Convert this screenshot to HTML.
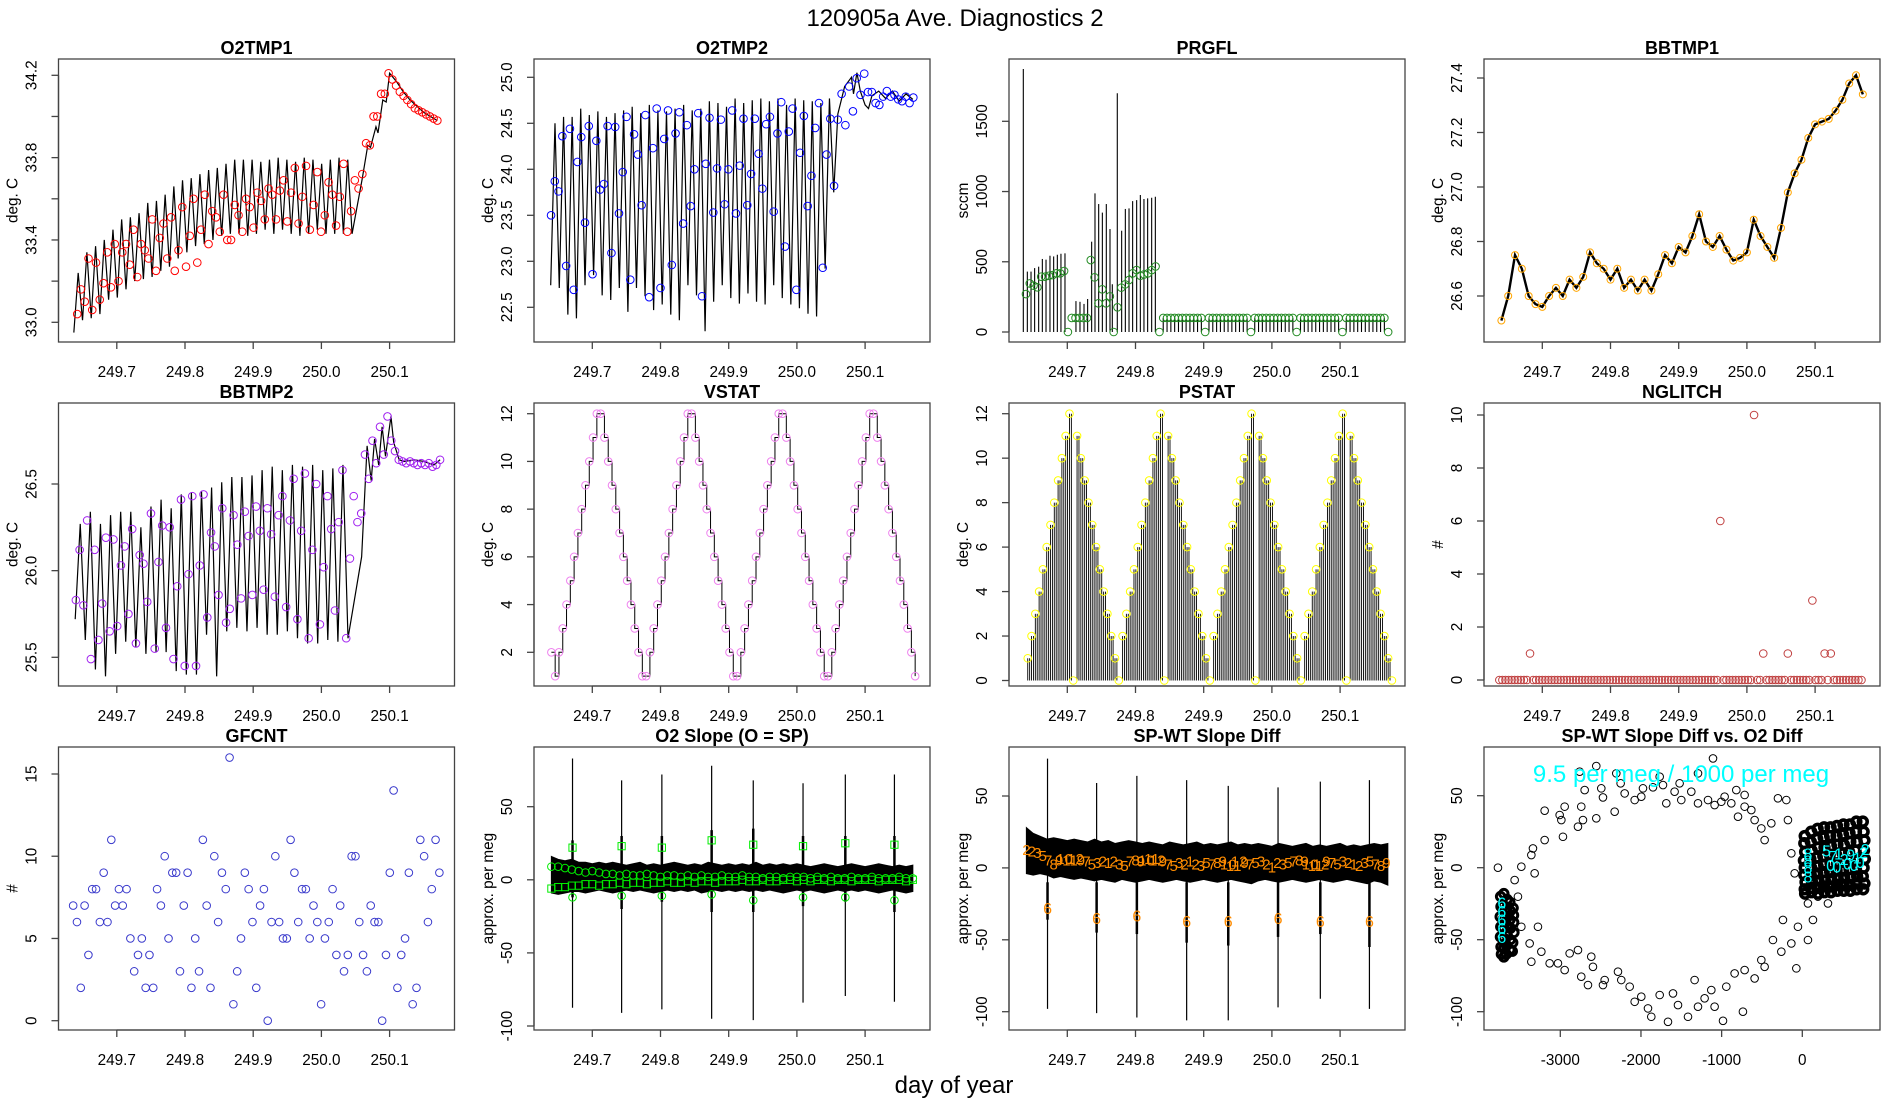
<!DOCTYPE html>
<html><head><meta charset="utf-8"><title>120905a Ave. Diagnostics 2</title>
<style>
html,body{margin:0;padding:0;background:#fff;}
svg{display:block;font-family:"Liberation Sans",Arial,sans-serif;}
</style></head>
<body>
<svg id="chart" width="1900" height="1100" viewBox="0 0 1900 1100" xmlns="http://www.w3.org/2000/svg">
<rect x="0" y="0" width="1900" height="1100" fill="#fff"/>
<text x="955" y="26" font-size="24" text-anchor="middle">120905a   Ave. Diagnostics 2</text>
<text x="954" y="1093" font-size="24" text-anchor="middle">day of year</text>
</svg>
<script>
// ---------------- DATA ----------------
// O2TMP1
const o2t1Peaks=[33.24,33.34,33.37,33.40,33.45,33.50,33.51,33.53,33.58,33.59,33.62,33.66,33.69,33.70,33.72,33.74,33.75,33.77,33.79,33.79,33.79,33.78,33.79,33.80,33.79,33.78,33.80,33.79,33.77,33.79,33.80,33.79];
const o2t1Troughs=[32.95,33.01,33.02,33.04,33.11,33.12,33.16,33.20,33.21,33.22,33.25,33.27,33.31,33.34,33.37,33.38,33.40,33.42,33.43,33.43,33.42,33.43,33.45,33.43,33.45,33.43,33.42,33.43,33.45,33.43,33.43,33.43];
const o2t1TailT=[250.045,250.06,250.068,250.072,250.08,250.083,250.09,250.095,250.10,250.11,250.12,250.13,250.14,250.15,250.16,250.17];
const o2t1TailV=[33.43,33.70,33.86,33.85,33.95,33.92,34.08,34.07,34.21,34.17,34.12,34.08,34.05,34.02,34.00,33.98];
const o2t1Marks=[33.04,33.16,33.10,33.31,33.06,33.29,33.11,33.19,33.34,33.17,33.38,33.20,33.34,33.38,33.28,33.45,33.22,33.38,33.35,33.31,33.50,33.25,33.41,33.48,33.31,33.51,33.25,33.35,33.56,33.27,33.42,33.60,33.29,33.45,33.62,33.38,33.54,33.51,33.44,33.62,33.40,33.40,33.57,33.52,33.44,33.60,33.56,33.46,33.63,33.59,33.50,33.65,33.62,33.50,33.64,33.69,33.49,33.63,33.75,33.48,33.61,33.76,33.45,33.57,33.73,33.44,33.52,33.68,33.62,33.47,33.61,33.77,33.44,33.54,33.69,33.65,33.72,33.87,33.86,34.00,34.00,34.11,34.11,34.21,34.18,34.15,34.12,34.10,34.08,34.06,34.04,34.03,34.02,34.01,34.00,33.99,33.98];
// O2TMP2
const o2t2Peaks=[24.50,24.57,24.57,24.66,24.59,24.63,24.57,24.61,24.64,24.68,24.61,24.70,24.64,24.63,24.66,24.70,24.64,24.66,24.74,24.72,24.68,24.77,24.72,24.75,24.77,24.74,24.77,24.70,24.77,24.75,24.74,24.72,24.77];
const o2t2Troughs=[22.74,22.71,22.42,22.38,22.74,22.85,22.63,22.58,22.71,22.45,22.71,22.62,22.47,22.53,22.42,22.36,22.74,22.63,22.24,22.56,22.74,22.60,22.54,22.65,22.56,22.53,22.74,22.60,22.53,22.49,22.43,22.40,22.92];
const o2t2TailT=[250.054,250.06,250.07,250.08,250.083,250.088,250.093,250.10,250.105,250.11,250.12,250.13,250.14,250.15,250.16,250.17];
const o2t2TailV=[23.75,24.60,24.90,25.00,24.82,25.05,24.85,24.70,24.66,24.80,24.85,24.77,24.85,24.74,24.82,24.76];
const o2t2Marks=[23.50,23.87,23.76,24.36,22.95,24.44,22.69,24.08,24.35,23.42,24.47,22.86,24.31,23.78,23.84,24.47,23.09,24.46,23.52,23.97,24.57,22.80,24.38,24.16,23.61,24.59,22.61,24.23,24.66,22.71,24.33,24.64,22.96,24.39,24.62,23.41,24.48,23.60,24.00,24.61,22.62,24.06,24.56,23.53,24.01,24.54,23.62,24.00,24.64,23.52,24.04,24.55,23.61,23.95,24.55,24.17,23.79,24.49,24.57,23.54,24.39,24.73,23.16,24.41,24.66,22.69,24.18,24.58,23.60,23.93,24.45,24.72,22.93,24.16,24.55,23.82,24.54,24.82,24.48,24.90,24.63,24.99,24.81,25.04,24.84,24.84,24.72,24.70,24.79,24.85,24.79,24.81,24.76,24.74,24.79,24.72,24.78];
// PRGFL
const prgSpikeT=[249.6355,249.6414,249.6468,249.6521,249.658,249.6634,249.6688,249.6746,249.680,249.6854,249.6907,249.6966,249.7127,249.7186,249.7245,249.7298,249.7357,249.7406,249.746,249.7514,249.7572,249.7626,249.766,249.7733,249.7797,249.7851,249.7905,249.7958,249.8017,249.8071,249.8124,249.8178,249.8237,249.8291];
const prgSpikeV=[1872,430,430,455,465,520,515,543,538,550,557,560,220,215,200,235,643,987,911,850,911,733,340,1700,721,876,880,932,939,975,947,951,956,963];
const prgMarks=[270,346,330,318,394,394,400,405,418,418,434,0,100,100,100,100,100,512,389,204,304,204,254,0,176,316,339,370,418,441,401,410,418,441,467,0,
100,100,100,100,100,100,100,100,100,100,100,0,100,100,100,100,100,100,100,100,100,100,100,0,100,100,100,100,100,100,100,100,100,100,100,0,100,100,100,100,100,100,100,100,100,100,100,0,100,100,100,100,100,100,100,100,100,100,100,0];
// BBTMP1
const bb1Vals=[26.51,26.60,26.75,26.70,26.60,26.57,26.56,26.60,26.63,26.60,26.66,26.63,26.67,26.76,26.72,26.70,26.66,26.70,26.63,26.66,26.62,26.66,26.62,26.68,26.75,26.72,26.78,26.76,26.82,26.90,26.80,26.78,26.82,26.77,26.73,26.74,26.76,26.88,26.82,26.78,26.74,26.85,26.98,27.05,27.10,27.18,27.23,27.24,27.25,27.28,27.32,27.38,27.41,27.34];
// BBTMP2
const bb2Peaks=[26.27,26.34,26.27,26.32,26.34,26.34,26.25,26.37,26.41,26.36,26.44,26.45,26.46,26.48,26.51,26.54,26.54,26.55,26.58,26.60,26.58,26.61,26.60,26.61,26.58,26.59,26.61];
const bb2Troughs=[25.72,25.60,25.43,25.39,25.52,25.59,25.56,25.52,25.53,25.53,25.42,25.40,25.40,25.63,25.39,25.65,25.67,25.65,25.67,25.63,25.63,25.65,25.61,25.58,25.58,25.60,25.59];
const bb2TailT=[250.039,250.059,250.067,250.073,250.078,250.084,250.089,250.094,250.102,250.106,250.114,250.121,250.136,250.150,250.165,250.174];
const bb2TailV=[25.61,26.08,26.72,26.52,26.76,26.61,26.83,26.66,26.89,26.74,26.64,26.63,26.64,26.63,26.61,26.64];
const bb2Marks=[25.83,26.12,25.80,26.29,25.49,26.12,25.60,25.81,26.19,25.65,26.18,25.68,26.03,26.14,25.75,26.24,25.58,26.09,26.04,25.82,26.33,25.55,26.05,26.26,25.67,26.25,25.49,25.91,26.41,25.45,25.98,26.43,25.45,26.03,26.44,25.73,26.22,26.14,25.86,26.36,25.70,25.78,26.32,26.15,25.84,26.34,26.20,25.86,26.37,26.23,25.89,26.36,26.21,25.85,26.32,26.43,25.79,26.29,26.53,25.72,26.23,26.56,25.61,26.12,26.50,25.69,26.02,26.43,26.24,25.77,26.28,26.58,25.61,26.07,26.43,26.28,26.33,26.67,26.53,26.75,26.62,26.83,26.67,26.89,26.75,26.69,26.64,26.63,26.62,26.63,26.62,26.61,26.62,26.61,26.62,26.60,26.61,26.64];
// VSTAT / PSTAT
const vstatVals=[2,1,2,3,4,5,6,7,8,9,10,11,12,12,11,10,9,8,7,6,5,4,3,2,1,1,
2,3,4,5,6,7,8,9,10,11,12,12,11,10,9,8,7,6,5,4,3,2,1,1,
2,3,4,5,6,7,8,9,10,11,12,12,11,10,9,8,7,6,5,4,3,2,1,1,
2,3,4,5,6,7,8,9,10,11,12,12,11,10,9,8,7,6,5,4,3,2,1];
const pstatVals=[1,2,3,4,5,6,7,8,9,10,11,12,0,11,10,9,8,7,6,5,4,3,2,1,0,
2,3,4,5,6,7,8,9,10,11,12,0,11,10,9,8,7,6,5,4,3,2,1,0,
2,3,4,5,6,7,8,9,10,11,12,0,11,10,9,8,7,6,5,4,3,2,1,0,
2,3,4,5,6,7,8,9,10,11,12,0,11,10,9,8,7,6,5,4,3,2,1,0];
// NGLITCH
const nglitchVals=[0,0,0,0,0,0,0,0,0,0, 1,0,0,0,0,0,0,0,0,0, 0,0,0,0,0,0,0,0,0,0, 0,0,0,0,0,0,0,0,0,0, 0,0,0,0,0,0,0,0,0,0, 0,0,0,0,0,0,0,0,0,0, 0,0,0,0,0,0,0,0,0,0, 0,0,6,0,0,0,0,0,0,0, 0,0,0,10,0,0,1,0,0,0, 0,0,0,0,1,0,0,0,0,0, 0,0,3,0,0,0,1,0,1,0, 0,0,0,0,0,0,0,0,0];
// GFCNT
const gfcntVals=[7,6,2,7,4,8,8,6,9,6,11,7,8,7,8,5,3,4,5,2,4,2,8,7,10,5,9,9,3,7,9,2,5,3,11,7,2,10,6,9,8,16,1,3,5,9,8,6,2,7,8,0,6,10,6,5,5,11,9,6,8,8,5,7,6,1,5,6,8,4,7,3,4,10,10,6,4,3,7,6,6,0,4,9,14,2,4,5,9,1,2,11,10,6,8,11,9];
// O2 slope
const spikeTimes=[249.671,249.743,249.802,249.875,249.936,250.009,250.071,250.143];
const o2sSpikeUp=[83,68,72,78,68,66,72,72];
const o2sSpikeDown=[-87.5,-91,-88.6,-95,-96,-84,-79.5,-83.4];
const o2sBlobUp=[27,30,30,34,35,30,30,30];
const o2sBlobDown=[-12,-20,-15,-22,-22,-18,-15,-22];
const o2sUpper=[16,14,13,14,12,12,11,12,11,12,11,10,11,12,10,11,10,11,12,11,10,11,10,12,11,10,11,10,11,10,12,10,11,10,11,10,11,10,9,10,11,10,9,10,11,10,9,10,11,10,9,10,9,10];
const o2sLower=[-9,-10,-9,-8,-8,-9,-8,-7,-8,-9,-8,-7,-8,-7,-8,-9,-8,-7,-8,-7,-8,-7,-9,-8,-7,-8,-7,-8,-7,-8,-7,-8,-7,-8,-9,-8,-7,-8,-7,-8,-9,-8,-7,-8,-7,-8,-7,-8,-9,-8,-7,-8,-9,-8];
const o2sCircles=[9,9,8,7,6,5,6,5,4,4,3,4,3,3,4,3,2,3,3,2,3,2,3,2,2,3,2,2,3,2,2,1,2,2,1,2,2,2,1,2,1,2,1,1,2,1,1,2,1,1,1,2,1,1];
const o2sSquares=[-6,-5,-5,-4,-4,-3,-3,-4,-3,-3,-2,-3,-2,-2,-3,-2,-2,-1,-2,-2,-1,-2,-1,-1,-2,-1,-1,-1,0,-1,-1,0,-1,-1,0,0,-1,0,-1,0,0,-1,0,0,-1,0,0,0,-1,0,0,0,-1,0];
const o2sSpikeSquares=[22,23,22,27,24,23,25,24];
const o2sSpikeCircles=[-12,-11,-11,-10,-14,-12,-12,-14];
// SP-WT slope diff
const spwSpikeUp=[76,59,64,61,57,56,60,61];
const spwSpikeDown=[-98,-101,-104,-106,-106,-97,-91,-98];
const spwBlobDown=[-36,-45,-46,-52,-54,-48,-46,-55];
const spwUpper=[28,24,22,20,21,20,19,20,19,18,20,18,19,17,18,19,18,17,18,17,16,18,17,16,17,18,16,17,16,17,18,16,17,16,17,16,15,17,16,15,16,17,15,16,15,16,17,15,16,15,16,17,16,17];
const spwLower=[-4,-5,-4,-5,-7,-6,-7,-8,-7,-8,-9,-8,-9,-10,-8,-9,-10,-9,-8,-9,-10,-9,-8,-9,-10,-9,-8,-9,-10,-9,-8,-9,-10,-11,-9,-8,-9,-10,-9,-8,-9,-10,-9,-8,-9,-10,-9,-8,-9,-10,-11,-9,-10,-12];
const spwDigitVals=[13,12,11,9,6,3,6,7,6,7,6,5,3,4,5,4,5,3,2,5,6,5,6,7,6,5,3,2,4,3,5,3,2,4,3,4,5,3,2,5,4,3,4,5,3,1,4,3,4,5,6,5,3,2,3,5,4,3,5,4,3,2,4,5,3,2,4];
const spwDigitLabels=["2","2","3","5","7","8","9","10","11","12","9","7","5","3","2","1","2","3","5","7","8","9","10","11","12","9","7","5","3","2","1","2","3","5","7","8","9","10","11","12","9","7","5","3","2","1","2","3","5","7","8","9","10","11","12","9","7","5","3","2","1","2","3","5","7","8","9"];
const spwSixVals=[-28,-35,-33,-37,-37,-35,-37,-37];
// Scatter: SP-WT vs O2 diff
const ringX=[-3194,-3008,-2946,-2987,-2967,-2781,-2719,-2740,-2698,-2760,-2554,-2554,-2492,-2471,-2326,-2306,-2252,-2202,-2078,-1996,-1975,-1851,-1768,-1727,-1686,-1583,-1521,-1500,-1376,-1293,-1293,-1169,-1107,-1087,-1004,-963,-880,-818,-797,-715,-715,-632,-591,-508,-467,-384,-302,-198,-178,-3194,-3339,-3359,-3483,-3318,-3566,-3773,-3525,
-3483,-3277,-3380,-3235,-3359,-3132,-3029,-2946,-2884,-2781,-2616,-2595,-2740,-2657,-2471,-2450,-2285,-2244,-2140,-2078,-1996,-1913,-1872,-1768,-1665,-1603,-1541,-1417,-1335,-1293,-1211,-1128,-1087,-983,-942,-839,-736,-715,-591,-508,-467,-364,-260,-240,-136,-74,-54,70,132,70,318,-95,-136,194];
const ringY=[39.6,36.6,42.4,33.1,21.5,28.5,33.1,42.4,53.9,66.7,34.3,70.6,55.1,48.8,38.9,65.5,58.6,51.6,47.0,49.3,55.1,55.8,63.2,57.4,44.7,52.8,58.6,47.0,52.8,65.5,44.7,47.0,75.9,43.5,45.8,49.3,44.7,53.9,35.4,42.4,50.5,40.0,33.1,27.3,19.2,30.8,48.2,47.0,33.1,19.2,13.4,8.8,0.7,-3.9,-8.6,0,-20.1,
-41.0,-41.0,-52.6,-58.3,-65.3,-66.4,-66.4,-71.1,-59.5,-57.2,-61.8,-68.8,-75.7,-81.5,-81.5,-78.0,-72.2,-78.0,-82.6,-93.1,-89.6,-97.7,-103.5,-88.4,-107.0,-87.3,-95.4,-103.5,-78.0,-96.5,-90.7,-85.0,-96.5,-106.3,-82.6,-73.4,-100.0,-71.1,-76.9,-64.1,-68.8,-50.2,-58.3,-36.3,-52.6,-69.9,-41.0,-50.2,-36.3,-24.8,-24.8,-3.9,10.0,-20.1];
const clusterLX=[-3740,-3700,-3660,-3625,-3585,-3735,-3705,-3665,-3620,-3580,-3745,-3700,-3660,-3622,-3578,-3738,-3702,-3662,-3618,-3575,-3742,-3698,-3658,-3620,-3590,-3735,-3700,-3665,-3625,-3595,-3730,-3700,-3670];
const clusterLY=[-20,-18,-22,-24,-28,-27,-26,-28,-30,-33,-34,-35,-34,-36,-38,-41,-42,-40,-42,-45,-48,-49,-47,-50,-52,-55,-56,-54,-57,-58,-60,-62,-60];
const clusterRX=[30,110,190,270,350,430,510,590,670,750, 25,105,185,265,345,425,505,585,665,760, 35,115,195,275,355,435,515,595,675,770, 20,100,180,260,340,420,500,580,660,765, 30,110,190,270,350,430,510,590,670,775, 25,105,185,265,345,425,505,585,665,760, 40,120,200,280,360,440,520,600,680,750, 30,110,190,270,350,430,510,590,670,770, 35,115,195,275,355,435,515,595,675,755];
const clusterRY=[22,25,27,28,28,29,30,30,32,32, 17,18,20,21,22,22,23,24,25,25, 11,12,14,14,15,16,16,18,18,19, 5,6,7,8,9,9,10,11,12,12, 0,0,1,2,3,3,4,5,5,6, -5,-5,-4,-3,-3,-2,-2,-1,-1,0, -10,-10,-9,-9,-8,-8,-7,-7,-6,-6, -15,-14,-14,-13,-13,-12,-12,-12,-11,-11, -18,-17,-18,-17,-17,-16,-16,-16,-15,-15];
const cyanX=[-3725,-3725,-3725,-3725,-3725,70,70,70,70,300,380,450,520,600,680,760,350,430,560,640,720,780];
const cyanY=[-24,-30,-36,-42,-48,-6,0,5,10,12,8,10,6,9,7,11,2,1,3,2,4,13];
const cyanLabels=["6","6","6","6","6","8","8","8","8","5","7","1","2","9","1","2","0","0","0","0","0","2"];

// ---------------- HELPERS ----------------
const NS='http://www.w3.org/2000/svg';
const svg=document.getElementById('chart');
function mk(tag,attrs,parent){const e=document.createElementNS(NS,tag);for(const k in attrs)e.setAttribute(k,attrs[k]);(parent||svg).appendChild(e);return e;}
const COLX=[58.5,534,1009,1484], ROWY=[59,403,747], BW=396, BH=283;
const AX='#444';
function linScale(v0,p0,v1,p1){const k=(p1-p0)/(v1-v0);return v=>p0+(v-v0)*k;}
function makePanel(name,col,row,title,ylab,yScale,yTicks,yLabeled,xScale,xTicks,xFmt,yFmt){
  const bx=COLX[col],by=ROWY[row];
  const g=mk('g',{});
  
  
  const t=mk('text',{x:bx+BW/2,y:by-5,'font-size':18,'font-weight':'bold','text-anchor':'middle'},g);
  t.textContent=title;
  
  
  const box=mk('rect',{x:bx,y:by,width:BW,height:BH,fill:'none',stroke:AX,'stroke-width':1.3},g);
  
  
  const xa=mk('g',{},g);
  
  
  const xb=by+BH;
  mk('line',{x1:xScale(xTicks[0]),x2:xScale(xTicks[xTicks.length-1]),y1:xb,y2:xb,stroke:AX,'stroke-width':1.3},xa);
  xTicks.forEach(v=>{const x=xScale(v);mk('line',{x1:x,x2:x,y1:xb,y2:xb+7,stroke:AX,'stroke-width':1.3},xa);
    const tx=mk('text',{x:x,y:xb+35,'font-size':15.3,'text-anchor':'middle'},xa);tx.textContent=xFmt(v);});
  const ya=mk('g',{},g);
  
  
  mk('line',{x1:bx,x2:bx,y1:yScale(yTicks[0]),y2:yScale(yTicks[yTicks.length-1]),stroke:AX,'stroke-width':1.3},ya);
  yTicks.forEach(v=>{const y=yScale(v);mk('line',{x1:bx-7,x2:bx,y1:y,y2:y,stroke:AX,'stroke-width':1.3},ya);});
  const yf=yFmt||(v=>String(v));
  yLabeled.forEach(v=>{const y=yScale(v);const tx=mk('text',{x:bx-22,y:y,'font-size':15.3,'text-anchor':'middle',transform:`rotate(-90 ${bx-22} ${y})`},ya);tx.textContent=yf(v);});
  const yl=mk('text',{x:bx-41,y:by+BH/2,'font-size':15.3,'text-anchor':'middle',transform:`rotate(-90 ${bx-41} ${by+BH/2})`},g);
  yl.textContent=ylab;
  
  
  const data=mk('g',{},g);
  
  
  return {g:data,bx,by};
}
function dayScale(col){const bx=COLX[col];return t=>bx+58.3+(t-249.7)*682;}
const dayTicks=[249.7,249.8,249.9,250.0,250.1];
const dayFmt=v=>v.toFixed(1);
const f1=v=>v.toFixed(1);
function circles(g,X,Y,ts,vs,color,r,name){
  vs.forEach((v,i)=>{if(v===null)return;const c=mk('circle',{cx:X(ts[i]),cy:Y(v),r:r||3.8,fill:'none',stroke:color,'stroke-width':1},g);
    
    });
}
function uniformTimes(n,t0,t1){const a=[];for(let i=0;i<n;i++)a.push(t0+(t1-t0)*i/(n-1));return a;}
function sawPath(X,Y,t0,t1,peaks,troughs,tailT,tailV){
  const n=troughs.length,per=(t1-t0)/n;let d='';
  for(let i=0;i<n;i++){d+=(i?'L':'M')+X(t0+i*per)+','+Y(troughs[i]);d+='L'+X(t0+(i+0.5)*per)+','+Y(peaks[i]);}
  tailT.forEach((t,i)=>{d+='L'+X(t)+','+Y(tailV[i]);});
  return d;
}

// ---------------- PANELS ----------------
// O2TMP1
{const X=dayScale(0),Y=linScale(33.0,322.3,34.2,75.3);
 const p=makePanel('o2tmp1',0,0,'O2TMP1','deg. C',Y,[33.0,33.2,33.4,33.6,33.8,34.0,34.2],[33.0,33.4,33.8,34.2],X,dayTicks,dayFmt,f1);
 const l=mk('path',{d:sawPath(X,Y,249.637,250.045,o2t1Peaks,o2t1Troughs,o2t1TailT,o2t1TailV),fill:'none',stroke:'#000','stroke-width':1.2},p.g);
 
 
 circles(p.g,X,Y,uniformTimes(o2t1Marks.length,249.642,250.170),o2t1Marks,'#ff0000',3.8,'o2tmp1-point');}
// O2TMP2
{const X=dayScale(1),Y=linScale(25.0,77.3,22.5,307.3);
 const p=makePanel('o2tmp2',1,0,'O2TMP2','deg. C',Y,[22.5,23.0,23.5,24.0,24.5,25.0],[22.5,23.0,23.5,24.0,24.5,25.0],X,dayTicks,dayFmt,f1);
 const l=mk('path',{d:sawPath(X,Y,249.639,250.054,o2t2Peaks,o2t2Troughs,o2t2TailT,o2t2TailV),fill:'none',stroke:'#000','stroke-width':1.2},p.g);
 
 
 circles(p.g,X,Y,uniformTimes(o2t2Marks.length,249.6395,250.1707),o2t2Marks,'#0000ff',3.8,'o2tmp2-point');}
// PRGFL
{const X=dayScale(2),Y=linScale(0,332,1500,121.3);
 const p=makePanel('prgfl',2,0,'PRGFL','sccm',Y,[0,500,1000,1500],[0,500,1000,1500],X,dayTicks,dayFmt);
 prgSpikeT.forEach((t,i)=>{const ln=mk('line',{x1:X(t),x2:X(t),y1:Y(0),y2:Y(prgSpikeV[i]),stroke:'#000','stroke-width':1.1},p.g);
   
   });
 const mt=uniformTimes(prgMarks.length,249.6394,250.1705);
 prgMarks.forEach((v,i)=>{if(i<36||v===0)return;const ln=mk('line',{x1:X(mt[i]),x2:X(mt[i]),y1:Y(0),y2:Y(v),stroke:'#000','stroke-width':1.1},p.g);
   
   });
 circles(p.g,X,Y,mt,prgMarks,'#228b22',3.8,'prgfl-point');}
// BBTMP1
{const X=dayScale(3),Y=linScale(26.6,296,27.4,78);
 const p=makePanel('bbtmp1',3,0,'BBTMP1','deg. C',Y,[26.6,26.8,27.0,27.2,27.4],[26.6,26.8,27.0,27.2,27.4],X,dayTicks,dayFmt,f1);
 const ts=uniformTimes(bb1Vals.length,249.64,250.17);
 const l=mk('path',{d:bb1Vals.map((v,i)=>(i?'L':'M')+X(ts[i])+','+Y(v)).join(''),fill:'none',stroke:'#000','stroke-width':2.4},p.g);
 
 
 circles(p.g,X,Y,ts,bb1Vals,'#ffa500',3.5,'bbtmp1-point');}
// BBTMP2
{const X=dayScale(0),Y=linScale(26.5,484,25.5,657.3);
 const p=makePanel('bbtmp2',0,1,'BBTMP2','deg. C',Y,[25.5,26.0,26.5],[25.5,26.0,26.5],X,dayTicks,dayFmt,f1);
 const l=mk('path',{d:sawPath(X,Y,249.639,250.039,bb2Peaks,bb2Troughs,bb2TailT,bb2TailV),fill:'none',stroke:'#000','stroke-width':1.2},p.g);
 
 
 circles(p.g,X,Y,uniformTimes(bb2Marks.length,249.640,250.174),bb2Marks,'#a020f0',3.8,'bbtmp2-point');}
// VSTAT
{const X=dayScale(1),Y=linScale(12,413.7,2,652.3);
 const p=makePanel('vstat',1,1,'VSTAT','deg. C',Y,[2,4,6,8,10,12],[2,4,6,8,10,12],X,dayTicks,dayFmt);
 const ts=uniformTimes(vstatVals.length,249.640,250.1734);
 let d='';vstatVals.forEach((v,i)=>{d+= i?('H'+X(ts[i])+'V'+Y(v)):('M'+X(ts[0])+','+Y(v));});
 const l=mk('path',{d:d,fill:'none',stroke:'#000','stroke-width':1},p.g);
 
 
 circles(p.g,X,Y,ts,vstatVals,'#ee82ee',3.8,'vstat-point');}
// PSTAT
{const X=dayScale(2),Y=linScale(12,413.7,0,680.5);
 const p=makePanel('pstat',2,1,'PSTAT','deg. C',Y,[0,2,4,6,8,10,12],[0,2,4,6,8,10,12],X,dayTicks,dayFmt);
 const ts=uniformTimes(pstatVals.length,249.642,250.176);const st=(ts[1]-ts[0]);
 pstatVals.forEach((v,i)=>{if(v<=0)return;[0,1].forEach(k=>{const x=X(ts[i]+k*st/2);const ln=mk('line',{x1:x,x2:x,y1:Y(0),y2:Y(v),stroke:'#000','stroke-width':0.9},p.g);
   
   });});
 circles(p.g,X,Y,ts,pstatVals,'#ffff00',3.8,'pstat-point');}
// NGLITCH
{const X=dayScale(3),Y=linScale(10,415,0,680);
 const p=makePanel('nglitch',3,1,'NGLITCH','#',Y,[0,2,4,6,8,10],[0,2,4,6,8,10],X,dayTicks,dayFmt);
 circles(p.g,X,Y,uniformTimes(nglitchVals.length,249.637,250.168),nglitchVals,'#c04040',3.8,'nglitch-point');}
// GFCNT
{const X=dayScale(0),Y=linScale(15,774,0,1020.7);
 const p=makePanel('gfcnt',0,2,'GFCNT','#',Y,[0,5,10,15],[0,5,10,15],X,dayTicks,dayFmt);
 circles(p.g,X,Y,uniformTimes(gfcntVals.length,249.636,250.173),gfcntVals,'#3a3acc',3.8,'gfcnt-point');}
// O2 Slope
{const X=dayScale(1),Y=linScale(50,806.7,-100,1026);
 const p=makePanel('o2-slope',1,2,'O2 Slope (O = SP)','approx. per meg',Y,[-100,-50,0,50],[-100,-50,0,50],X,dayTicks,dayFmt);
 const ts=uniformTimes(o2sUpper.length,249.640,250.170);
 let d='';o2sUpper.forEach((v,i)=>{d+=(i?'L':'M')+X(ts[i])+','+Y(v);});
 for(let i=o2sLower.length-1;i>=0;i--)d+='L'+X(ts[i])+','+Y(o2sLower[i]);
 const band=mk('path',{d:d+'Z',fill:'#000',stroke:'#000','stroke-width':1},p.g);
 
 
 spikeTimes.forEach((t,i)=>{const x=X(t);
   const s=mk('line',{x1:x,x2:x,y1:Y(o2sSpikeDown[i]),y2:Y(o2sSpikeUp[i]),stroke:'#000','stroke-width':1.2},p.g);
   
   
   const b=mk('line',{x1:x,x2:x,y1:Y(o2sBlobDown[i]),y2:Y(o2sBlobUp[i]),stroke:'#000','stroke-width':2.5},p.g);
   
   });
 circles(p.g,X,Y,ts,o2sCircles,'#00ee00',3.8,'o2-slope-circle');
 o2sSquares.forEach((v,i)=>{const q=mk('rect',{x:X(ts[i])-3.6,y:Y(v)-3.6,width:7.2,height:7.2,fill:'none',stroke:'#00ee00','stroke-width':1},p.g);
   
   });
 spikeTimes.forEach((t,i)=>{const q=mk('rect',{x:X(t)-3.6,y:Y(o2sSpikeSquares[i])-3.6,width:7.2,height:7.2,fill:'none',stroke:'#00ee00','stroke-width':1},p.g);
   
   });
 circles(p.g,X,Y,spikeTimes,o2sSpikeCircles,'#00ee00',3.8,'o2-slope-circle');}
// SP-WT Slope Diff
{const X=dayScale(2),Y=linScale(50,796,-100,1011.7);
 const p=makePanel('spwt-slope-diff',2,2,'SP-WT Slope Diff','approx. per meg',Y,[-100,-50,0,50],[-100,-50,0,50],X,dayTicks,dayFmt);
 const ts=uniformTimes(spwUpper.length,249.640,250.170);
 let d='';spwUpper.forEach((v,i)=>{d+=(i?'L':'M')+X(ts[i])+','+Y(v);});
 for(let i=spwLower.length-1;i>=0;i--)d+='L'+X(ts[i])+','+Y(spwLower[i]);
 const band=mk('path',{d:d+'Z',fill:'#000',stroke:'#000','stroke-width':1},p.g);
 
 
 spikeTimes.forEach((t,i)=>{const x=X(t);
   const s=mk('line',{x1:x,x2:x,y1:Y(spwSpikeDown[i]),y2:Y(spwSpikeUp[i]),stroke:'#000','stroke-width':1.2},p.g);
   
   
   const b=mk('line',{x1:x,x2:x,y1:Y(spwBlobDown[i]),y2:Y(-10),stroke:'#000','stroke-width':2.5},p.g);
   
   });
 const dt=uniformTimes(spwDigitVals.length,249.640,250.168);
 spwDigitVals.forEach((v,i)=>{const tx=mk('text',{x:X(dt[i]),y:Y(v)+6,'font-size':15,fill:'#ff8c00','text-anchor':'middle'},p.g);tx.textContent=spwDigitLabels[i];
   
   });
 spikeTimes.forEach((t,i)=>{const tx=mk('text',{x:X(t),y:Y(spwSixVals[i])+6,'font-size':16,fill:'#ff8c00','text-anchor':'middle'},p.g);tx.textContent='6';
   
   });}
// Scatter
{const X=linScale(-3000,1560.3,0,1802.3),Y=linScale(50,795.7,-100,1011.7);
 const p=makePanel('slope-diff-scatter',3,2,'SP-WT Slope Diff vs. O2 Diff','approx. per meg',Y,[-100,-50,0,50],[-100,-50,0,50],X,[-3000,-2000,-1000,0],v=>String(v));
 const id=v=>v;
 circles(p.g,id,Y,ringX.map(X),ringY,'#000',3.8,'scatter-point');
 clusterLX.forEach((x,i)=>{const c=mk('circle',{cx:X(x),cy:Y(clusterLY[i]),r:4.2,fill:'none',stroke:'#000','stroke-width':3},p.g);
   
   });
 clusterRX.forEach((x,i)=>{const c=mk('circle',{cx:X(x),cy:Y(clusterRY[i]),r:4.4,fill:'none',stroke:'#000','stroke-width':3.6},p.g);
   
   });
 cyanX.forEach((x,i)=>{const tx=mk('text',{x:X(x),y:Y(cyanY[i])+6,'font-size':16,fill:'#00ffff','text-anchor':'middle'},p.g);tx.textContent=cyanLabels[i];
   
   });
 const ann=mk('text',{x:1681,y:782,'font-size':24,fill:'#00ffff','text-anchor':'middle'},p.g);
 ann.textContent='9.5 per meg / 1000 per meg';
 
 }
</script>
</body></html>
